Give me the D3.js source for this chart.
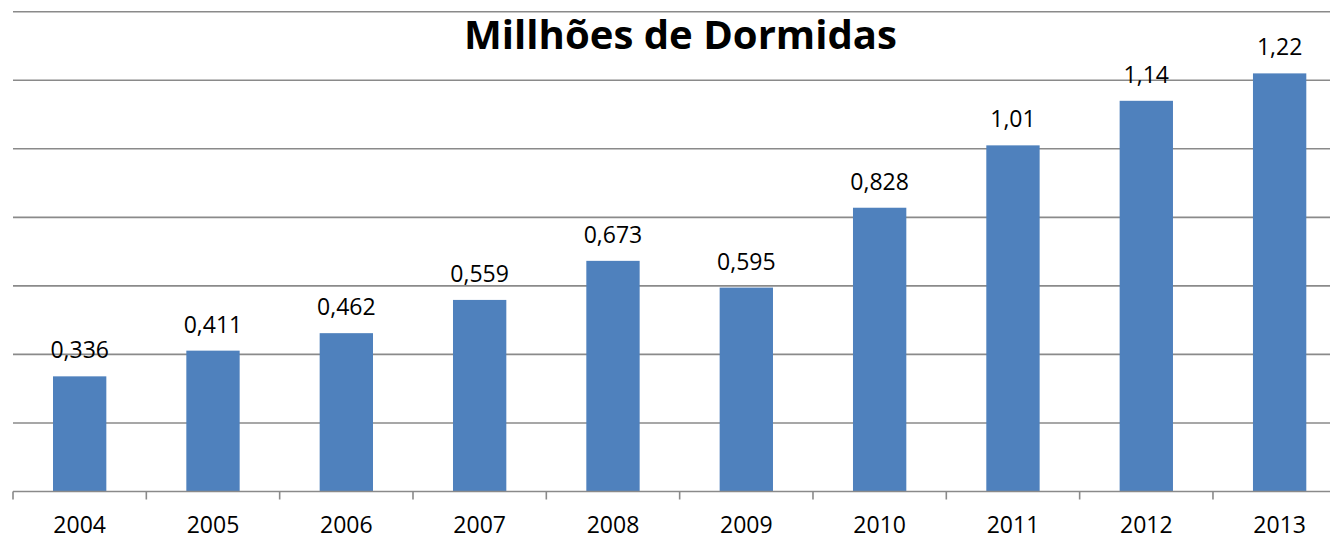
<!DOCTYPE html>
<html>
<head>
<meta charset="utf-8">
<script src="https://cdn.jsdelivr.net/npm/d3@7"></script>
<style>
  html, body { margin: 0; padding: 0; background: #fff; }
  svg { display: block; }
  text { font-family: "Open Sans", "Liberation Sans", sans-serif; }
</style>
</head>
<body>
<svg id="chart" width="1330" height="536"></svg>
<script>
const years = ["2004","2005","2006","2007","2008","2009","2010","2011","2012","2013"];
const dormidas = [0.336, 0.411, 0.462, 0.559, 0.673, 0.595, 0.828, 1.01, 1.14, 1.22];
const yTicks = [0, 0.2, 0.4, 0.6, 0.8, 1.0, 1.2, 1.4];
const title = "Millhões de Dormidas";

(function () {
const svg = d3.select("#chart");
const plotLeft = 13, step = 133.33, plotBottom = 491.5, plotTop = 11.7;

const x = d3.scaleBand().domain(years)
  .range([plotLeft, plotLeft + step * years.length])
  .paddingInner(0.6).paddingOuter(0.3);
const y = d3.scaleLinear().domain([0, 1.4]).range([plotBottom, plotTop]);

// gridlines
svg.append("g").selectAll("line").data(yTicks.slice(1)).join("line")
  .attr("x1", plotLeft).attr("x2", 1400)
  .attr("y1", d => y(d)).attr("y2", d => y(d))
  .attr("stroke", "#8a8a8a").attr("stroke-width", 1.6);

// bars
svg.append("g").selectAll("rect").data(dormidas).join("rect")
  .attr("x", (d, i) => x(years[i]))
  .attr("width", x.bandwidth())
  .attr("y", d => y(d))
  .attr("height", d => y(0) - y(d))
  .attr("fill", "#4f81bd");

// x axis
const xAxis = d3.axisBottom(x).tickSize(0).tickPadding(0);
const gx = svg.append("g").attr("transform", `translate(0,${plotBottom})`).call(xAxis);
gx.select(".domain").remove();
gx.append("line").attr("x1", plotLeft).attr("x2", 1400).attr("y1", 0).attr("y2", 0)
  .attr("stroke", "#8a8a8a").attr("stroke-width", 1.6);
const bounds = d3.range(years.length + 1).map(i => plotLeft + i * x.step());
gx.selectAll("line.tk").data(bounds).join("line").attr("class", "tk")
  .attr("x1", d => d).attr("x2", d => d).attr("y1", 0).attr("y2", 8)
  .attr("stroke", "#8a8a8a").attr("stroke-width", 1.6);
gx.selectAll(".tick text")
  .attr("y", 41).attr("dy", null)
  .attr("fill", "#000").style("font-size", "23px").style("font-family", "'Open Sans', sans-serif");

// data labels
svg.append("g").selectAll("text").data(dormidas).join("text")
  .attr("x", (d, i) => x(years[i]) + x.bandwidth() / 2)
  .attr("y", d => y(d) - 18)
  .attr("text-anchor", "middle")
  .style("font-size", "23px").attr("fill", "#000")
  .text(d => String(d).replace(".", ","));

// title
const t = svg.append("text")
  .attr("x", 680.5).attr("y", 49)
  .attr("text-anchor", "middle")
  .style("font-weight", "bold").style("font-size", "40px").attr("fill", "#000")
  .text(title);
const w = t.node().getComputedTextLength();
t.style("font-size", (40 * 433 / w) + "px");
})();
</script>
</body>
</html>
